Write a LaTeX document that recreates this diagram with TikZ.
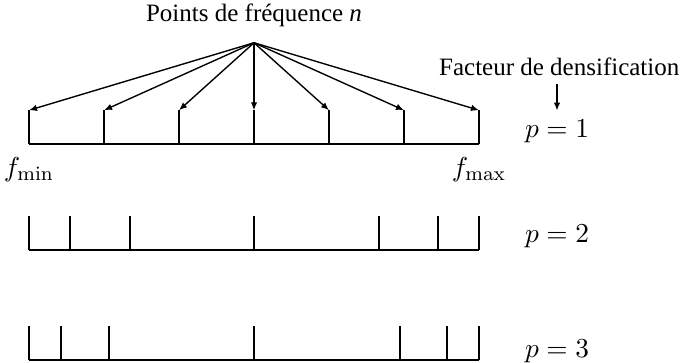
\documentclass[tikz,border=0pt]{standalone}
\usepackage[no-math]{fontspec}
\setmainfont{Liberation Serif}
\usetikzlibrary{arrows.meta}

\begin{document}
\begin{tikzpicture}[x=30pt,y=30pt,
  axe/.style={line width=0.8pt},
  fleche/.style={line width=0.55pt,-{Latex[length=3.2pt,width=2.6pt]}},
  lbl/.style={font=\fontsize{10.95}{13}\selectfont}]

  \useasboundingbox (-0.387,-2.92) rectangle (8.68,1.92);
  \def\h{0.45}

  % Three rows of frequency points, one per densification factor
  \foreach \row/\y/\ticks in {1/0/{0,1,2,3,4,5,6},
                              2/-1.413/{0,0.55,1.34,3,4.66,5.45,6},
                              3/-2.88/{0,0.43,1.06,3,4.94,5.57,6}}{
    \draw[axe] (0,\y) -- (6,\y);
    \foreach \x [count=\i] in \ticks
      \draw[axe] (\x,\y) -- ++(0,\h) coordinate (t\row-\i);
  }

  % Arrows from the label to the points of the first row
  \coordinate (sommet) at (3,1.35);
  \node[anchor=base] (titre) at (3,1.63) {Points de fréquence \textit{n}};
  \foreach \i in {1,...,7}
    \draw[fleche] (sommet) -- (t1-\i);

  % Bounds
  \node[lbl,anchor=north] (fmin) at (0,-0.06) {$f_{\mathrm{min}}$};
  \node[lbl,anchor=north] (fmax) at (6,-0.06) {$f_{\mathrm{max}}$};

  % Densification factor
  \node[anchor=base] (facteur) at (7.07,0.92) {Facteur de densification};
  \node[lbl,anchor=base] (p1) at (7.04,0.093) {$p=1$};
  \node[lbl,anchor=base] (p2) at (7.04,-1.307) {$p=2$};
  \node[lbl,anchor=base] (p3) at (7.04,-2.84) {$p=3$};
  \draw[fleche] (p1.north |- facteur.south) -- (p1.north);

\end{tikzpicture}
\end{document}
